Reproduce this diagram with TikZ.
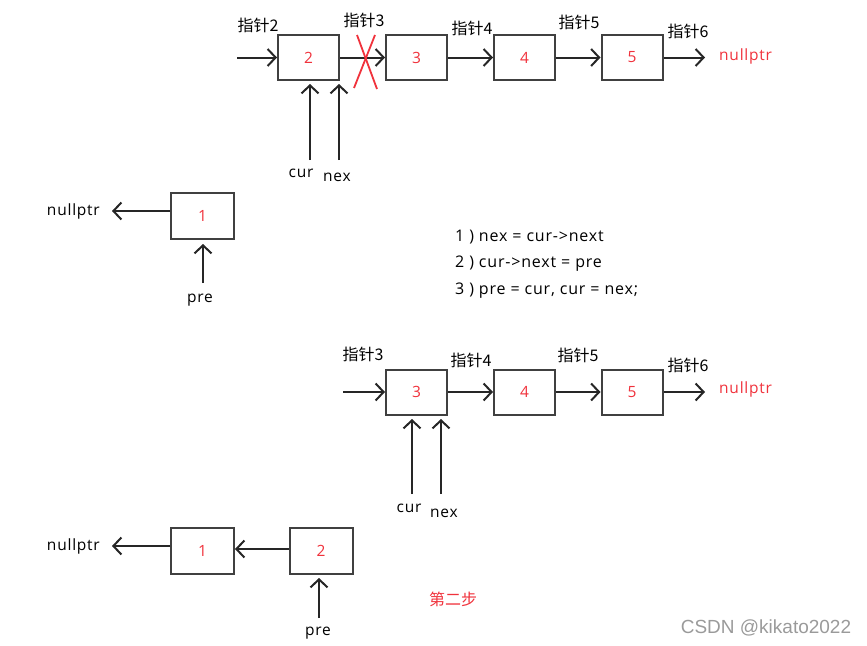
\documentclass[tikz,border=0pt]{standalone}
\usepackage{fontspec}
\setmainfont[LetterSpace=5]{Open Sans}
\newfontfamily\cjk{Noto Sans CJK SC}
\newfontfamily\wmfont{Liberation Sans}
\usetikzlibrary{arrows.meta}
\definecolor{boxc}{HTML}{404040}
\definecolor{redt}{HTML}{F0323C}
\definecolor{wm}{HTML}{9A9A9A}
\tikzset{
  box/.style={draw=boxc, line width=2pt, minimum width=61pt, minimum height=45pt, inner sep=0pt, text=redt, font=\fontsize{15.5}{15}\selectfont},
  lbl/.style={font=\fontsize{15.5}{15}\selectfont, inner sep=0pt},
  codelbl/.style={font=\fontsize{16}{16}\selectfont, inner sep=0pt},
  cjklbl/.style={font=\cjk\fontsize{16}{16}\selectfont, inner sep=0pt},
  redlbl/.style={font=\fontsize{15.5}{15}\selectfont, inner sep=0pt, text=redt},
  ptr/.style={draw=black!85, line width=2pt, -{Straight Barb[length=8pt,width=17pt,line width=2pt]}},
  cross/.style={draw=redt, line width=1.8pt}
}
\begin{document}
\begin{tikzpicture}[x=1pt,y=-1pt]
\useasboundingbox (0,0) rectangle (867,645);
% ---------- top row ----------
\node[box] (t2) at (308.5,57.5) {2};
\node[box] (t3) at (416.5,57.5) {3};
\node[box] (t4) at (524.5,57.5) {4};
\node[box] (t5) at (632,57.5) {5};
\coordinate (tin) at (237,57.5);
\coordinate (tout) at (705,57.5);
\node[redlbl, anchor=west] (tnull) at (719,56) {nullptr};
\draw[ptr] (tin) -- (t2.west);
\draw[ptr] (t2.east) -- (t3.west);
\draw[ptr] (t3.east) -- (t4.west);
\draw[ptr] (t4.east) -- (t5.west);
\draw[ptr] (t5.east) -- (tout);
\node[cjklbl] (tp2) at (258,25) {指针2};
\node[cjklbl] (tp3) at (364,20) {指针3};
\node[cjklbl] (tp4) at (472,28) {指针4};
\node[cjklbl] (tp5) at (579,22) {指针5};
\node[cjklbl] (tp6) at (688,31) {指针6};
\coordinate (xa1) at (357,35);
\coordinate (xa2) at (377,89);
\coordinate (xb1) at (375,35);
\coordinate (xb2) at (354,88);
\draw[cross] (xa1) -- (xa2);
\draw[cross] (xb1) -- (xb2);
\node[lbl] (tcur) at (301,173) {cur};
\node[lbl] (tnex) at (337,177) {nex};
\coordinate (tcurs) at (310,160);
\coordinate (tcure) at (310,84);
\coordinate (tnexs) at (339,160);
\coordinate (tnexe) at (339,84);
\draw[ptr] (tcurs) -- (tcure);
\draw[ptr] (tnexs) -- (tnexe);
% ---------- middle ----------
\node[box, minimum width=63pt, minimum height=46pt] (m1) at (202.5,216) {1};
\node[lbl, anchor=east] (mnull) at (100,211) {nullptr};
\coordinate (mnulle) at (112,211);
\draw[ptr] (m1.west |- mnulle) -- (mnulle);
\node[lbl] (mpre) at (200,300) {pre};
\coordinate (mpres) at (203,283);
\coordinate (mpree) at (203,244);
\draw[ptr] (mpres) -- (mpree);
\node[codelbl, anchor=west] (c1) at (455,237) {1 ) nex = cur->next};
\node[codelbl, anchor=west] (c2) at (455,264) {2 ) cur->next = pre};
\node[codelbl, anchor=west] (c3) at (455,291) {3 ) pre = cur, cur = nex;};
% ---------- bottom row ----------
\node[box] (b3) at (416.5,392) {3};
\node[box] (b4) at (524.5,392) {4};
\node[box] (b5) at (632,392) {5};
\coordinate (bin) at (343,392);
\coordinate (bout) at (705,392);
\node[redlbl, anchor=west] (bnull) at (719,389) {nullptr};
\draw[ptr] (bin) -- (b3.west);
\draw[ptr] (b3.east) -- (b4.west);
\draw[ptr] (b4.east) -- (b5.west);
\draw[ptr] (b5.east) -- (bout);
\node[cjklbl] (bp3) at (363,354) {指针3};
\node[cjklbl] (bp4) at (471,360) {指针4};
\node[cjklbl] (bp5) at (578,355) {指针5};
\node[cjklbl] (bp6) at (688,365) {指针6};
\node[lbl] (bcur) at (409,508) {cur};
\node[lbl] (bnex) at (444,513) {nex};
\coordinate (bcurs) at (412,494);
\coordinate (bcure) at (412,419);
\coordinate (bnexs) at (441,494);
\coordinate (bnexe) at (441,419);
\draw[ptr] (bcurs) -- (bcure);
\draw[ptr] (bnexs) -- (bnexe);
% ---------- bottom left ----------
\node[box, minimum width=63pt, minimum height=46pt] (l1) at (202.5,550.5) {1};
\node[box, minimum width=63pt, minimum height=46pt] (l2) at (321,550.5) {2};
\node[lbl, anchor=east] (lnull) at (100,546) {nullptr};
\coordinate (lnulle) at (112,546);
\draw[ptr] (l1.west |- lnulle) -- (lnulle);
\draw[ptr] (l2.west |- 0,549) -- (l1.east |- 0,549);
\node[lbl] (lpre) at (318,633) {pre};
\coordinate (lpres) at (319,618);
\coordinate (lpree) at (319,578);
\draw[ptr] (lpres) -- (lpree);
\node[cjklbl, text=redt] (step) at (453,599) {第二步};
\node[inner sep=0pt, text=wm, font=\wmfont\fontsize{19}{19}\selectfont] (wmk) at (766,628) {CSDN @kikato2022};
\end{tikzpicture}
\end{document}
